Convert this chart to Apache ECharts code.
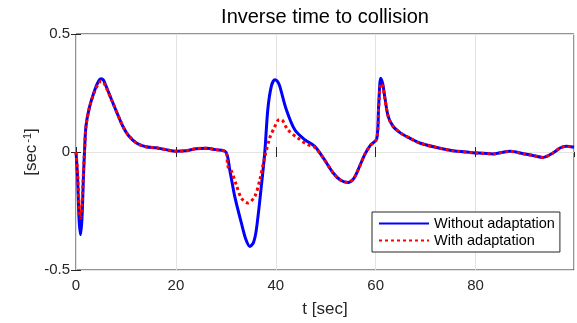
<!DOCTYPE html>
<html><head><meta charset="utf-8">
<script src="https://cdn.jsdelivr.net/npm/echarts@6/dist/echarts.min.js"></script>
<style>html,body{margin:0;padding:0;background:#fff}#c{width:577px;height:323px}</style>
</head><body><div id="c"></div>
<script>
const titleText = 'Inverse time to collision';
const seriesNames = ['Without adaptation', 'With adaptation'];
const xTicks = [0, 20, 40, 60, 80];
const yTicks = [-0.5, 0, 0.5];

const tWithout = [0,0.3,0.6,0.9,1.2,1.5,1.7,2.0,2.7,3.7,4.5,5.0,5.5,6.0,7.4,9.4,10.5,12.1,14,16,18,20,22,24,26,28,30,30.8,31.8,33.1,34.0,34.8,35.5,36.1,37.1,37.8,38.4,39.1,39.8,40.3,40.8,42.1,43.8,45.8,47.8,49.5,51.5,53,54.5,55.5,56.2,57.8,59,60.2,60.6,61.0,61.4,61.8,62.5,63.5,65,66.8,68.8,72,75.5,80.2,83.5,86.9,89.5,91.5,93.5,95.5,97,98.2,99.7];
const vWithout = [0,-0.1,-0.28,-0.35,-0.28,-0.1,0,0.11,0.19,0.26,0.3,0.31,0.305,0.28,0.207,0.108,0.07,0.038,0.022,0.018,0.01,0.003,0.005,0.014,0.016,0.01,0,-0.078,-0.19,-0.30,-0.37,-0.40,-0.385,-0.33,-0.146,0,0.18,0.278,0.306,0.30,0.278,0.18,0.094,0.052,0.024,-0.025,-0.089,-0.12,-0.129,-0.115,-0.089,-0.011,0.03,0.055,0.2,0.313,0.29,0.236,0.151,0.108,0.08,0.059,0.038,0.02,0.005,-0.004,-0.008,0.003,-0.007,-0.015,-0.023,-0.004,0.018,0.024,0.02];

const tWith = [0,0.3,0.6,0.9,1.2,1.5,1.7,2.0,2.7,3.7,4.5,5.0,5.5,6.0,7.4,9.4,10.5,12.1,14,16,18,20,22,24,26,28,30,30.4,31.1,32.1,33.1,34.4,35.8,36.8,37.8,38.8,39.8,40.5,41.1,42.4,44.4,46.4,47.8,49.5,51.5,53,54.5,55.5,56.2,57.8,59,60.2,60.6,61.0,61.4,61.8,62.5,63.5,65,66.8,68.8,72,75.5,80.2,83.5,86.9,89.5,91.5,93.5,95.5,97,98.2,99.7];
const vWith = [0,-0.08,-0.22,-0.28,-0.22,-0.08,0,0.11,0.19,0.255,0.29,0.30,0.295,0.275,0.207,0.108,0.07,0.038,0.022,0.018,0.01,0.003,0.005,0.014,0.016,0.01,0,-0.06,-0.08,-0.14,-0.195,-0.216,-0.188,-0.117,-0.02,0.06,0.108,0.135,0.137,0.094,0.059,0.031,0.02,-0.025,-0.089,-0.12,-0.129,-0.115,-0.089,-0.011,0.03,0.055,0.19,0.29,0.28,0.23,0.151,0.108,0.08,0.059,0.038,0.02,0.005,-0.004,-0.008,0.003,-0.007,-0.015,-0.023,-0.004,0.018,0.024,0.02];

const pair = (t, v) => t.map((x, i) => [x, v[i]]);
const font = '"Liberation Sans", Arial, Helvetica, sans-serif';
const dark = '#262626';

const chart = echarts.init(document.getElementById('c'), null, {renderer: 'canvas'});
const xCommon = {type: 'value', min: 0, max: 99.7, interval: 20};
const yCommon = {type: 'value', min: -0.5, max: 0.5, interval: 0.5};
chart.setOption({
  animation: false,
  backgroundColor: '#fff',
  title: {text: titleText, left: 325, top: 7, textAlign: 'center', padding: 0,
    textStyle: {fontFamily: font, fontSize: 20, fontWeight: 'normal', color: '#000'}},
  grid: {left: 76, top: 34, width: 498, height: 236, show: true, borderColor: dark, borderWidth: 1, backgroundColor: 'transparent'},
  legend: {left: 372, top: 212, orient: 'vertical', data: seriesNames,
    borderColor: dark, borderWidth: 1, backgroundColor: '#fff', padding: [4, 5, 4, 6], itemGap: 2,
    itemWidth: 50, itemHeight: 14, borderRadius: 0,
    itemStyle: {opacity: 0},
    textStyle: {fontFamily: font, fontSize: 14.5, color: '#000'}},
  xAxis: [
    Object.assign({}, xCommon, {position: 'bottom', name: 't [sec]', nameLocation: 'middle', nameGap: 31,
      nameMoveOverlap: false,
      nameTextStyle: {fontFamily: font, fontSize: 17, color: dark},
      axisLine: {show: false}, axisTick: {inside: true, length: 5, lineStyle: {color: dark}},
      axisLabel: {fontFamily: font, fontSize: 15, color: dark, margin: 8, showMaxLabel: false,
        formatter: v => xTicks.includes(v) ? String(v) : ''},
      splitLine: {show: true, lineStyle: {color: '#e3e3e3', width: 1}}}),
    Object.assign({}, xCommon, {position: 'top', axisLine: {show: false},
      axisTick: {inside: true, length: 5, lineStyle: {color: dark}}, axisLabel: {show: false}, splitLine: {show: false}})
  ],
  yAxis: [
    Object.assign({}, yCommon, {position: 'left', name: '[sec{sup|-1}]', nameLocation: 'middle', nameGap: 36, nameRotate: 90,
      nameMoveOverlap: false,
      nameTextStyle: {fontFamily: font, fontSize: 17, color: dark,
        rich: {sup: {fontFamily: font, fontSize: 11, color: dark, verticalAlign: 'top', padding: [0, 0, 7, 2]}}},
      axisLine: {show: false}, axisTick: {inside: true, length: 5, lineStyle: {color: dark}},
      axisLabel: {fontFamily: font, fontSize: 15, color: dark, margin: 6,
        formatter: v => yTicks.includes(v) ? String(v) : ''},
      splitLine: {show: true, lineStyle: {color: '#e3e3e3', width: 1}}}),
    Object.assign({}, yCommon, {position: 'right', axisLine: {show: false},
      axisTick: {inside: true, length: 5, lineStyle: {color: dark}}, axisLabel: {show: false}, splitLine: {show: false}})
  ],
  series: [
    {name: seriesNames[0], type: 'line', data: pair(tWithout, vWithout), showSymbol: false, symbol: 'none', smooth: 0.3,
      lineStyle: {color: '#0000ff', width: 3}, itemStyle: {color: '#0000ff'}, z: 2},
    {name: seriesNames[1], type: 'line', data: pair(tWith, vWith), showSymbol: false, symbol: 'none', smooth: 0.3,
      lineStyle: {color: '#ff0000', width: 3, type: [3, 3]}, itemStyle: {color: '#ff0000'}, z: 3}
  ]
});
</script></body></html>
